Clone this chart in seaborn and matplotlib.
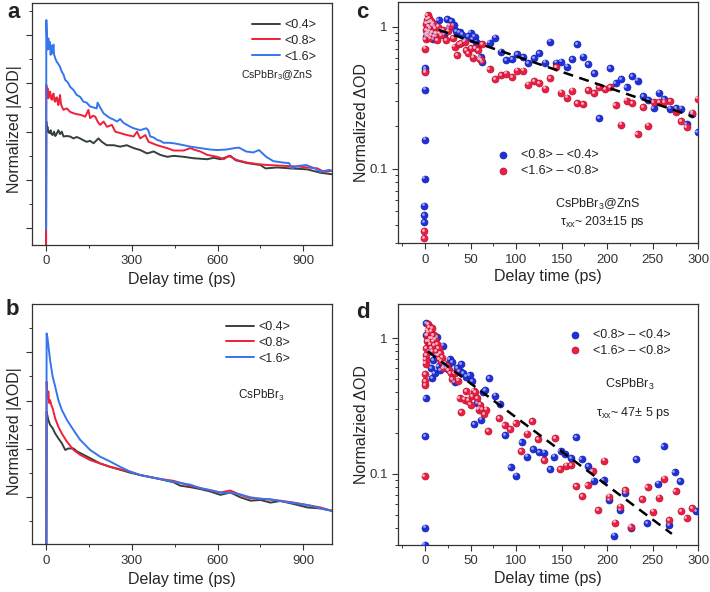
import matplotlib
matplotlib.use('Agg')
import matplotlib.pyplot as plt
import matplotlib.transforms as mtransforms
import seaborn as sns
from matplotlib.ticker import MultipleLocator, LogLocator, NullFormatter, FixedLocator, FixedFormatter

# ---- data ----
# panel a : CsPbBr3@ZnS, normalized |dOD| (arbitrary units)
a_x_04 = [1, 2, 4, 6, 9, 13, 17, 20, 24, 29, 33, 36, 40, 44, 50, 56, 62, 73, 85, 97, 108, 120, 132, 143, 155, 167, 184, 196,
          213, 237, 260, 283, 307, 330, 354, 377, 400, 424, 447, 482, 517, 564, 587, 610, 645, 663, 704, 750,
          768, 809, 855, 914, 960, 1000]
a_y_04 = [-0.5, 2.21, 2.05, 2.10, 1.99, 1.97, 2.03, 1.95, 1.93, 2.00, 1.91, 1.93, 1.98, 2.03, 1.95, 2.00, 1.90, 1.91, 1.90, 1.86, 1.89, 1.86, 1.82, 1.79, 1.81, 1.76, 1.86, 1.79,
          1.72, 1.72, 1.69, 1.72, 1.66, 1.62, 1.55, 1.59, 1.52, 1.48, 1.50, 1.48, 1.45, 1.43, 1.46, 1.43, 1.50, 1.41, 1.35, 1.31,
          1.24, 1.26, 1.24, 1.22, 1.15, 1.12]
a_x_08 = [1, 2, 4, 6, 9, 12, 15, 18, 21, 24, 27, 30, 33, 36, 39, 42, 44, 47, 50, 53,
          56, 62, 68, 74, 85, 97, 110, 120, 130, 138, 149, 155, 165, 173, 182, 190, 202, 214, 231, 243,
          260, 284, 307, 319, 330, 348, 359, 389, 424, 447, 482, 505, 517, 540, 564, 599, 622, 639, 669, 704,
          739, 774, 809, 844, 879, 914, 949, 972, 1000]
a_y_08 = [-0.5, 2.97, 2.75, 2.90, 2.69, 2.80, 2.83, 2.70, 2.66, 2.75, 2.79, 2.65, 2.62, 2.70, 2.71, 2.60, 2.55, 2.66, 2.76, 2.58,
          2.52, 2.45, 2.47, 2.48, 2.41, 2.38, 2.36, 2.35, 2.33, 2.31, 2.45, 2.28, 2.33, 2.31, 2.20, 2.14, 2.21, 2.10, 2.14, 2.00,
          1.97, 1.93, 1.90, 2.00, 1.86, 1.93, 1.79, 1.72, 1.66, 1.61, 1.61, 1.66, 1.63, 1.59, 1.52, 1.48, 1.43, 1.50, 1.41, 1.36,
          1.33, 1.31, 1.30, 1.29, 1.28, 1.26, 1.24, 1.17, 1.19]
a_x_16 = [1, 2, 4, 5, 6, 7, 9, 11, 13, 15, 17, 20, 22, 24, 27, 29, 33, 38, 44, 50, 56, 62, 68, 77, 85,
          97, 108, 120, 132, 143, 155, 167, 178, 181, 190, 202, 213, 225, 237, 249, 260, 272, 284, 296, 307,
          319, 330, 340, 351, 358, 365, 377, 389, 400, 412, 430, 447, 465, 482, 505, 540, 575, 600, 630, 660,
          675, 700, 725, 745, 770, 795, 830, 850, 860, 880, 910, 940, 960, 990, 1000]
a_y_16 = [-0.03, 4.31, 3.95, 3.80, 3.83, 3.70, 3.93, 3.75, 3.72, 3.85, 3.59, 3.78, 3.62, 3.69, 3.80, 3.60, 3.52, 3.45, 3.40, 3.34, 3.24, 3.18, 3.07, 3.02, 2.93,
          2.86, 2.76, 2.72, 2.62, 2.60, 2.52, 2.50, 2.48, 2.60, 2.50, 2.38, 2.33, 2.28, 2.25, 2.21, 2.26, 2.18, 2.14, 2.10, 2.07,
          2.05, 2.03, 2.05, 2.07, 2.03, 1.90, 1.88, 1.83, 1.81, 1.77, 1.77, 1.76, 1.74, 1.72, 1.69, 1.66, 1.63, 1.62, 1.63, 1.66,
          1.67, 1.59, 1.57, 1.62, 1.48, 1.39, 1.36, 1.35, 1.24, 1.29, 1.31, 1.24, 1.17, 1.21, 1.19]

# panel b : CsPbBr3
b_x_04 = [2, 3, 9, 15, 24, 33, 44, 56, 68, 79, 97, 109, 132, 155, 190, 225, 260, 295, 330, 389,
          447, 470, 505, 540, 575, 610, 645, 680, 715, 750, 785, 820, 867, 914, 960, 1000]
b_y_04 = [-1.2, 1.77, 1.60, 1.50, 1.43, 1.32, 1.22, 1.12, 0.98, 1.01, 1.01, 0.95, 0.88, 0.81, 0.70, 0.63, 0.57, 0.51, 0.46, 0.39,
          0.31, 0.24, 0.21, 0.17, 0.12, 0.05, 0.10, 0.0, -0.07, -0.055, -0.11, -0.076, -0.14, -0.21, -0.23, -0.28]
b_x_08 = [2, 3, 6, 9, 12, 15, 20, 24, 33, 44, 56, 74, 97, 120, 155, 190, 225, 260, 295, 330,
          389, 447, 505, 540, 575, 610, 645, 680, 715, 750, 785, 820, 867, 914, 960, 1000]
b_y_08 = [-1.2, 2.39, 2.05, 2.19, 1.95, 2.01, 1.90, 1.84, 1.63, 1.46, 1.32, 1.15, 0.98, 0.88, 0.77, 0.70, 0.63, 0.58, 0.53, 0.46,
          0.39, 0.34, 0.24, 0.19, 0.14, 0.10, 0.14, 0.05, -0.02, -0.03, -0.05, -0.07, -0.11, -0.16, -0.21, -0.28]
b_x_16 = [2, 3, 6, 9, 15, 24, 33, 44, 56, 74, 97, 120, 155, 190, 225, 260, 295, 330, 389, 447,
          505, 540, 575, 610, 645, 680, 715, 750, 785, 820, 867, 914, 960, 1000]
b_y_16 = [-1.2, 3.39, 3.30, 3.15, 2.84, 2.50, 2.29, 2.01, 1.81, 1.60, 1.39, 1.19, 0.98, 0.84, 0.74, 0.63, 0.53, 0.46, 0.39, 0.32,
          0.26, 0.19, 0.15, 0.10, 0.09, 0.06, 0.0, -0.03, -0.04, -0.08, -0.12, -0.16, -0.23, -0.28]

# panel c : differences, CsPbBr3@ZnS
c_blue_x = [-1.0, -0.8, -0.6, -0.4, -0.2, 0.0, 0.2, 0.4, 1, 2, 3, 4, 5, 6, 7, 8, 9, 10, 11, 12,
            15, 18, 21, 24, 26, 29, 31.5, 34.5, 38, 41, 44, 47, 50, 52, 54.6, 56, 59.5, 61, 63,
            71, 77.3, 83.2, 89.4, 95.6, 101.5, 107.7, 113.2, 119.8, 125.3, 131.5, 137.7, 143.6, 149.8, 155.7,
            161.5, 167.4, 173.6, 179.1, 185.7, 191.2, 203.3, 209.2, 215, 221.2, 227.1, 233.3, 239.2, 245,
            250.9, 256.8, 262.6, 268.9, 275.5, 281.3, 287.2, 293.4, 299.3]
c_blue_y = [0.042, 0.047, 0.055, 0.085, 0.16, 0.36, 0.49, 0.51, 0.85, 0.95, 1.05, 0.9, 1.0, 0.88, 1.08, 0.92, 0.82, 1.0, 0.9, 0.86,
            1.11, 0.95, 0.88, 1.13, 0.98, 1.10, 1.03, 0.93, 0.92, 0.88, 0.80, 0.86, 0.91, 0.82, 0.85, 0.78, 0.755, 0.61, 0.56,
            0.771, 0.837, 0.667, 0.582, 0.589, 0.638, 0.608, 0.552, 0.598, 0.649, 0.558, 0.784, 0.558, 0.567, 0.523,
            0.589, 0.751, 0.615, 0.543, 0.469, 0.226, 0.512, 0.399, 0.428, 0.374, 0.449, 0.417, 0.325, 0.305,
            0.266, 0.343, 0.308, 0.265, 0.266, 0.265, 0.206, 0.243, 0.181]
c_red_x = [-1.0, -0.8, 0.2, 0.4, 0.6, 1.0, 1.4, 1.8, 2.2, 2.6, 3.0, 3.4, 3.8, 4.2, 4.6, 5.0, 5.5, 6, 6.5, 7,
           7.5, 8, 9, 10, 11, 12, 13, 14, 16, 18, 20, 23.5, 25, 27, 30.8, 32.6, 35.2, 37.4, 40, 43.6,
           45.5, 47.3, 51, 52.7, 55.7, 58, 60, 61.5, 63, 71, 77.3, 83.2, 89.4, 95.6, 101.5, 107.7, 113.2, 119.8, 125.3, 131.5,
           137.7, 143.6, 149.8, 155.7, 161.5, 167.4, 173.6, 179.1, 185.7, 191.5, 197.4, 203.3, 209.2, 215, 221.2, 227.1, 233.3,
           239.2, 245, 250.9, 256.8, 262.6, 268.9, 275.5, 281.3, 287.2, 293.4, 299.3]
c_red_y = [0.0325, 0.0364, 0.48, 0.70, 0.82, 0.95, 1.05, 0.88, 1.12, 0.9, 1.21, 1.0, 0.85, 1.15, 0.93, 1.08, 0.83, 0.98, 1.1, 0.87,
           1.02, 0.92, 1.05, 0.85, 0.97, 0.9, 0.8, 1.0, 0.9, 0.874, 0.95, 0.806, 0.93, 1.016, 0.829, 0.723, 0.632, 0.752, 0.764, 0.784,
           0.685, 0.65, 0.705, 0.605, 0.705, 0.68, 0.592, 0.58, 0.75, 0.50, 0.426, 0.457, 0.467, 0.440, 0.49, 0.49, 0.391, 0.414, 0.399, 0.366,
           0.433, 0.517, 0.343, 0.316, 0.354, 0.288, 0.284, 0.358, 0.339, 0.375, 0.362, 0.374, 0.279, 0.204, 0.302, 0.288, 0.175,
           0.273, 0.201, 0.293, 0.293, 0.296, 0.30, 0.252, 0.217, 0.195, 0.248, 0.311]
c_fit_x = [15, 295]
c_fit_y = [0.95, 0.232]

# panel d : differences, CsPbBr3
d_blue_x = [-0.5, 0.0, 0.3, 0.6, 1.0, 1.5, 3, 5, 7, 7.5, 8.8, 10.7, 12, 13.2, 15, 17, 19.8, 21, 23, 25,
            27, 30, 32.6, 35, 38, 40, 42, 45.5, 49, 52, 54, 57, 60, 62, 64, 66, 70, 77, 82, 88,
            94, 100, 106, 112, 119, 125, 131, 137, 142, 149, 154, 160, 166, 172, 179, 185, 196, 202, 208, 214,
            220, 226, 232, 244, 256, 262, 268, 274, 280, 298]
d_blue_y = [0.030, 0.040, 0.19, 0.36, 1.29, 1.06, 0.95, 0.80, 0.60, 0.51, 0.69, 0.556, 0.75, 1.02, 0.62, 0.58, 0.88, 0.62, 0.60, 0.62,
            0.70, 0.67, 0.475, 0.60, 0.57, 0.647, 0.55, 0.52, 0.537, 0.48, 0.231, 0.33, 0.306, 0.251, 0.40, 0.412, 0.508, 0.377, 0.329, 0.192,
            0.112, 0.097, 0.171, 0.134, 0.151, 0.145, 0.143, 0.108, 0.134, 0.147, 0.139, 0.131, 0.187, 0.128, 0.114, 0.089, 0.090, 0.064, 0.035, 0.054,
            0.072, 0.040, 0.128, 0.043, 0.0844, 0.16, 0.042, 0.103, 0.088, 0.053]
d_red_x = [-0.5, 0.0, 0.2, 0.4, 0.6, 0.8, 1, 1.5, 2, 2.5, 3, 3.3, 4, 4.5, 5, 5.5, 6, 6.5, 7, 7.5,
           8, 8.5, 9, 9.5, 10, 11, 12, 13, 14, 15, 16, 17, 18, 19, 20, 22, 24, 26, 28, 30,
           32.6, 36.3, 38.1, 39.9, 43.6, 45.4, 47.3, 50.2, 51.6, 53.5, 55.3, 57.1, 59, 60.8, 63, 64.8, 67.4, 69.2, 81.3, 87.5,
           93.8, 99.6, 105.9, 112.1, 117.9, 124.2, 130.4, 142.5, 148.7, 154.6, 160.8, 166.3, 172.5, 178.4, 183.9, 190.1, 196.3, 202.2, 208.4, 213.9,
           220.1, 225.6, 238.5, 244.3, 250.5, 256.8, 262.6, 268.1, 275.1, 281, 287.2, 293.4]
d_red_y = [0.096, 0.45, 0.48, 0.54, 0.65, 0.70, 0.75, 0.85, 0.95, 1.05, 1.15, 1.27, 1.1, 0.95, 1.2, 1.0, 0.9, 1.12, 0.85, 1.0,
           1.18, 0.8, 0.95, 1.05, 0.88, 0.98, 0.8, 0.9, 0.75, 0.85, 0.7, 0.78, 0.68, 0.72, 0.6, 0.65, 0.62, 0.58, 0.55, 0.5,
           0.55, 0.486, 0.362, 0.286, 0.352, 0.405, 0.346, 0.324, 0.372, 0.41, 0.399, 0.362, 0.297, 0.324, 0.297, 0.276, 0.297, 0.206, 0.258, 0.227,
           0.214, 0.237, 0.147, 0.198, 0.244, 0.18, 0.126, 0.182, 0.108, 0.115, 0.116, 0.0807, 0.0685, 0.0824, 0.105, 0.054, 0.125, 0.0677, 0.0436, 0.0572,
           0.0754, 0.0408, 0.0651, 0.0798, 0.0526, 0.0667, 0.0919, 0.0454, 0.0745, 0.0533, 0.047, 0.0556]
d_fit_x = [3, 271]
d_fit_y = [0.80, 0.036]

line_labels = ['<0.4>', '<0.8>', '<1.6>']
line_colors = ['#36403f', '#f0203a', '#3576ee']
dot_labels = ['<0.8> \u2013 <0.4>', '<1.6> \u2013 <0.8>']
dot_colors = ['#1f30d8', '#ea1f44']
dot_edges = ['#1420a0', '#b0122e']
dot_shine = ['#9aa4ff', '#ffb8c6']

# ---- style ----
sns.set_theme(style='ticks', rc={
    'axes.linewidth': 0.9, 'axes.edgecolor': '#333333',
    'xtick.major.size': 4, 'ytick.major.size': 4,
    'xtick.minor.size': 2.5, 'ytick.minor.size': 2.5,
    'xtick.major.width': 0.8, 'ytick.major.width': 0.8,
    'xtick.minor.width': 0.7, 'ytick.minor.width': 0.7,
    'xtick.color': '#333333', 'ytick.color': '#333333',
    'xtick.labelsize': 9.5, 'ytick.labelsize': 9.5,
})
plt.rcParams['font.family'] = ['Liberation Sans', 'DejaVu Sans']
plt.rcParams['mathtext.fontset'] = 'custom'
plt.rcParams['mathtext.rm'] = 'Liberation Sans'
plt.rcParams['text.color'] = '#222222'

fig = plt.figure(figsize=(7.1, 5.92), dpi=100)
ax_a = fig.add_axes([0.0451, 0.5861, 0.4225, 0.4083])
ax_b = fig.add_axes([0.0451, 0.0806, 0.4225, 0.4054])
ax_c = fig.add_axes([0.5601, 0.5890, 0.4234, 0.4081])
ax_d = fig.add_axes([0.5601, 0.0794, 0.4234, 0.4066])


def line_panel(ax, xs, ys, ylim, yticks, leg_corner):
    for x, y, lab, col in zip(xs, ys, line_labels, line_colors):
        sns.lineplot(x=x, y=y, ax=ax, color=col, lw=1.4, label=lab, sort=False, estimator=None)
    ax.set_xlim(-48, 1000)
    ax.set_ylim(*ylim)
    ax.set_xticks([0, 300, 600, 900])
    ax.xaxis.set_minor_locator(MultipleLocator(150))
    ax.set_yticks(yticks)
    ax.yaxis.set_minor_locator(MultipleLocator(0.5))
    ax.set_yticklabels([])
    ax.set_xlabel('Delay time (ps)', fontsize=11.5)
    ax.xaxis.set_label_coords(0.5, -0.112)
    ax.set_ylabel('Normalized |\u0394OD|', fontsize=11.5)
    # legend corner given in figure fraction
    ax.legend(loc='upper right', bbox_to_anchor=leg_corner, bbox_transform=fig.transFigure,
              frameon=False, fontsize=9, handlelength=2.3, handletextpad=0.3, labelspacing=0.3,
              borderpad=0, borderaxespad=0)


def dot_panel(ax, xs, ys, fit_x, fit_y, ylim, leg_anchor, ylabel):
    shine = mtransforms.offset_copy(ax.transData, fig=fig, x=-0.9, y=0.9, units='points')
    for x, y, lab, col, edge, sh in zip(xs, ys, dot_labels, dot_colors, dot_edges, dot_shine):
        sns.scatterplot(x=x, y=y, ax=ax, color=col, s=26, edgecolor=edge, linewidth=0.4,
                        label=lab, zorder=3)
        ax.scatter(x, y, s=4, color=sh, linewidth=0, zorder=3.1, transform=shine)
    sns.lineplot(x=fit_x, y=fit_y, ax=ax, color='black', lw=1.8, zorder=4)
    ax.lines[-1].set_dashes((4, 2.6))
    ax.set_yscale('log')
    ax.set_xlim(-30, 300)
    ax.set_ylim(*ylim)
    ax.set_xticks([0, 50, 100, 150, 200, 250, 300])
    ax.xaxis.set_minor_locator(MultipleLocator(25))
    ax.yaxis.set_major_locator(FixedLocator([0.1, 1]))
    ax.yaxis.set_major_formatter(FixedFormatter(['0.1', '1']))
    ax.yaxis.set_minor_locator(LogLocator(base=10, subs=[2, 3, 4, 5, 6, 7, 8, 9]))
    ax.yaxis.set_minor_formatter(NullFormatter())
    ax.tick_params(axis='y', which='major', pad=3)
    ax.set_xlabel('Delay time (ps)', fontsize=11.5)
    ax.set_ylabel(ylabel, fontsize=11.5)
    ax.legend(loc='upper left', bbox_to_anchor=leg_anchor, frameon=False, fontsize=9,
              handlelength=1.0, handletextpad=0.9, labelspacing=0.3, borderpad=0, borderaxespad=0)


line_panel(ax_a, [a_x_04, a_x_08, a_x_16], [a_y_04, a_y_08, a_y_16],
           (-0.345, 4.655), [0, 1, 2, 3, 4], (316 / 710, 1 - 19 / 592))
ax_a.yaxis.set_label_coords(-0.035, 0.48)
ax_a.text(0.937, 0.703, 'CsPbBr$_3$@ZnS', transform=ax_a.transAxes, ha='right', va='center', fontsize=7.6)

line_panel(ax_b, [b_x_04, b_x_08, b_x_16], [b_y_04, b_y_08, b_y_16],
           (-0.972, 3.993), [0, 1, 2, 3], (290 / 710, 1 - 321 / 592))
ax_b.yaxis.set_label_coords(-0.035, 0.472)
ax_b.xaxis.set_label_coords(0.5, -0.115)
ax_b.text(0.765, 0.622, 'CsPbBr$_3$', transform=ax_b.transAxes, ha='center', va='center', fontsize=8.5)

dot_panel(ax_c, [c_blue_x, c_red_x], [c_blue_y, c_red_y], c_fit_x, c_fit_y,
          (0.0298, 1.5), (0.33, 0.39), 'Normalized \u0394OD')
ax_c.yaxis.set_label_coords(-0.097, 0.498)
ax_c.xaxis.set_label_coords(0.5, -0.106)
ax_c.text(0.666, 0.159, 'CsPbBr$_3$@ZnS', transform=ax_c.transAxes, ha='center', va='center', fontsize=9)
ax_c.text(0.681, 0.088, '\u03c4$_{\\mathrm{xx}}$~ 203\u00b115 ps', transform=ax_c.transAxes,
          ha='center', va='center', fontsize=9)

dot_panel(ax_d, [d_blue_x, d_red_x], [d_blue_y, d_red_y], d_fit_x, d_fit_y,
          (0.0298, 1.78), (0.57, 0.898), 'Normalzied \u0394OD')
ax_d.yaxis.set_label_coords(-0.097, 0.499)
ax_d.xaxis.set_label_coords(0.5, -0.108)
ax_d.text(0.773, 0.665, 'CsPbBr$_3$', transform=ax_d.transAxes, ha='center', va='center', fontsize=9)
ax_d.text(0.784, 0.547, '\u03c4$_{\\mathrm{xx}}$~ 47\u00b1 5 ps', transform=ax_d.transAxes,
          ha='center', va='center', fontsize=9)

for letter, x, y in [('a', 0.010, 0.9696), ('c', 0.502, 0.9696), ('b', 0.008, 0.468), ('d', 0.502, 0.463)]:
    fig.text(x, y, letter, fontsize=16, fontweight='bold', ha='left', va='baseline')

fig.savefig('out.png', dpi=100)
